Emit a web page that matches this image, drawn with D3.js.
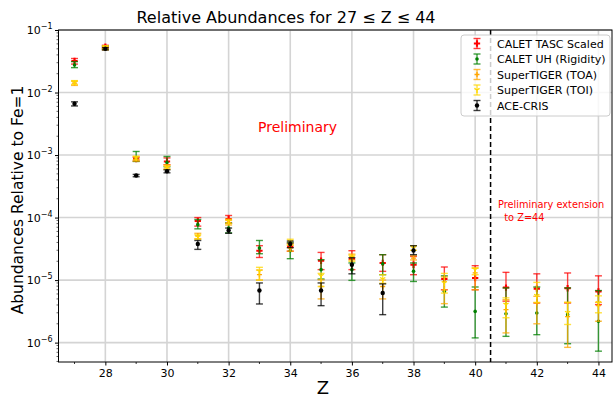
<!DOCTYPE html>
<html>
<head>
<meta charset="utf-8">
<script src="https://cdn.jsdelivr.net/npm/d3@7"></script>
<style>
  body { margin: 0; background: #fff; }
  svg { font-family: "DejaVu Sans", sans-serif; }
</style>
</head>
<body>
<svg width="616" height="401"></svg>
<script>
// atomic number
var zVals = [27, 28, 29, 30, 31, 32, 33, 34, 35, 36, 37, 38, 39, 40, 41, 42, 43, 44];

// CALET TASC Scaled
var tascVal = [3.2e-2, 5.4e-2, 8.6e-4, 7.9e-4, 8.8e-5, 9.5e-5, 2.95e-5, 3.4e-5, 2.04e-5, 2.17e-5, 1.88e-5, 1.76e-5, 1.04e-5, 1.08e-5, 7.6e-6, 7.3e-6, 7.4e-6, 6.6e-6];
var tascLo  = [2.85e-2, 5.1e-2, 8.0e-4, 7.0e-4, 7.3e-5, 8.1e-5, 2.3e-5, 2.9e-5, 1.47e-5, 1.47e-5, 1.38e-5, 1.22e-5, 7.0e-6, 7.0e-6, 4.6e-6, 4.3e-6, 4.3e-6, 4.05e-6];
var tascHi  = [3.5e-2, 5.7e-2, 9.2e-4, 9.0e-4, 1.0e-4, 1.08e-4, 3.55e-5, 3.9e-5, 2.77e-5, 2.95e-5, 2.55e-5, 2.39e-5, 1.62e-5, 1.7e-5, 1.33e-5, 1.26e-5, 1.3e-5, 1.17e-5];

// CALET UH (Rigidity)
var uhVal = [2.76e-2, 5.2e-2, 8.9e-4, 7.6e-4, 7.7e-5, 6.8e-5, 3.26e-5, 2.95e-5, 1.47e-5, 1.47e-5, 1.83e-5, 1.38e-5, 6.6e-6, 3.16e-6, 2.9e-6, 2.98e-6, 2.8e-6, 2.19e-6];
var uhLo  = [2.5e-2, 4.9e-2, 7.9e-4, 6.5e-4, 6.6e-5, 5.7e-5, 2.64e-5, 2.2e-5, 1.04e-5, 9.9e-6, 1.22e-5, 9.5e-6, 3.7e-6, 1.19e-6, 1.26e-6, 1.34e-6, 9.6e-7, 7.3e-7];
var uhHi  = [3.12e-2, 5.5e-2, 1.14e-3, 9.5e-4, 9.3e-5, 8.2e-5, 4.3e-5, 3.95e-5, 2.12e-5, 1.88e-5, 2.55e-5, 1.88e-5, 1.17e-5, 7.76e-6, 7.5e-6, 7.76e-6, 7.5e-6, 6.8e-6];

// SuperTIGER (TOA)
var toaVal = [1.41e-2, 5.1e-2, 8.7e-4, 6.5e-4, 5.1e-5, 8.3e-5, 1.22e-5, 3.26e-5, 7.9e-6, 2.39e-5, 7.9e-6, 2.25e-5, 7.0e-6, 1.3e-5, 3.37e-6, 4.3e-6, 2.6e-6, 3.9e-6];
var toaLo  = [1.3e-2, 4.8e-2, 8.0e-4, 6.0e-4, 4.6e-5, 7.6e-5, 1.0e-5, 2.9e-5, 5.0e-6, 2.1e-5, 5.0e-6, 2.1e-5, 4.2e-6, 7.0e-6, 1.43e-6, 2.0e-6, 8.4e-7, 2.2e-6];
var toaHi  = [1.52e-2, 5.4e-2, 9.4e-4, 7.0e-4, 5.6e-5, 9.0e-5, 1.45e-5, 3.6e-5, 1.01e-5, 2.6e-5, 1.0e-5, 2.45e-5, 1.12e-5, 1.56e-5, 4.86e-6, 5.5e-6, 4.4e-6, 4.4e-6];

// SuperTIGER (TOI)
var toiVal = [1.45e-2, 5.3e-2, 9.0e-4, 6.3e-4, 4.9e-5, 8.7e-5, 1.38e-5, 4.1e-5, 1.17e-5, 2.25e-5, 1.04e-5, 3.26e-5, 9.0e-6, 1.47e-5, 4.05e-6, 5.6e-6, 3.0e-6, 4.3e-6];
var toiLo  = [1.35e-2, 5.0e-2, 8.4e-4, 5.9e-4, 4.5e-5, 8.0e-5, 1.0e-5, 3.7e-5, 7.9e-6, 2.0e-5, 8.9e-6, 3.0e-5, 6.2e-6, 1.22e-5, 2.5e-6, 4.4e-6, 1.95e-6, 3.0e-6];
var toiHi  = [1.55e-2, 5.6e-2, 9.6e-4, 6.7e-4, 5.3e-5, 9.4e-5, 1.6e-5, 4.5e-5, 1.28e-5, 2.5e-5, 1.22e-5, 3.55e-5, 1.28e-5, 1.56e-5, 5.2e-6, 9.2e-6, 4.4e-6, 5.6e-6];

// ACE-CRIS (Z = 27..38)
var aceVal = [6.6e-3, 5.0e-2, 4.7e-4, 5.5e-4, 3.77e-5, 6.2e-5, 6.8e-6, 3.77e-5, 6.8e-6, 1.76e-5, 6.2e-6, 2.98e-5];
var aceLo  = [6.1e-3, 4.8e-2, 4.5e-4, 5.2e-4, 3.1e-5, 5.6e-5, 4.15e-6, 3.3e-5, 3.9e-6, 1.26e-5, 2.8e-6, 2.55e-5];
var aceHi  = [7.1e-3, 5.2e-2, 4.9e-4, 5.8e-4, 4.3e-5, 6.8e-5, 9.0e-6, 4.2e-5, 9.0e-6, 2.28e-5, 8.7e-6, 3.55e-5];

var xTicks = [28, 30, 32, 34, 36, 38, 40, 42, 44];
var yTicks = [1e-1, 1e-2, 1e-3, 1e-4, 1e-5, 1e-6];
var supers = {"-1": "\u22121", "-2": "\u22122", "-3": "\u22123", "-4": "\u22124", "-5": "\u22125", "-6": "\u22126"};

var padL = 58.5, padR = 612, padT = 30, padB = 362;

var x = d3.scaleLinear().domain([26.48, 44.44]).range([padL, padR]);
var y = d3.scaleLog().domain([Math.pow(10, -6.31), 1e-1]).range([padB, padT]);

var svg = d3.select('svg');

// grid
var grid = svg.append('g').attr('class', 'grid');
grid.selectAll('line.gx').data(xTicks).enter().append('line')
    .attr('x1', function(d) { return x(d); }).attr('x2', function(d) { return x(d); })
    .attr('y1', padT).attr('y2', padB)
    .attr('stroke', '#d4d4d4').attr('stroke-width', 1.6);
grid.selectAll('line.gy').data(yTicks).enter().append('line')
    .attr('y1', function(d) { return y(d); }).attr('y2', function(d) { return y(d); })
    .attr('x1', padL).attr('x2', padR)
    .attr('stroke', '#d4d4d4').attr('stroke-width', 1.6);

// dashed separator at Z = 40.5
svg.append('line')
    .attr('x1', x(40.5)).attr('x2', x(40.5))
    .attr('y1', padT).attr('y2', padB)
    .attr('stroke', '#000').attr('stroke-width', 1.5)
    .attr('stroke-dasharray', '5,3');

var series = [
  { name: 'CALET TASC Scaled',  color: '#ff0000', val: tascVal, lo: tascLo, hi: tascHi, marker: 'P' },
  { name: 'CALET UH (Rigidity)', color: '#008000', val: uhVal, lo: uhLo, hi: uhHi, marker: '.' },
  { name: 'SuperTIGER (TOA)',   color: '#ffa500', val: toaVal, lo: toaLo, hi: toaHi, marker: '+' },
  { name: 'SuperTIGER (TOI)',   color: '#ffd700', val: toiVal, lo: toiLo, hi: toiHi, marker: '1' },
  { name: 'ACE-CRIS',           color: '#000000', val: aceVal, lo: aceLo, hi: aceHi, marker: 'o' }
];

function drawMarker(g, m, color) {
  if (m === 'P') {
    g.append('path').attr('d', d3.symbol().type(d3.symbolCross).size(22)())
      .attr('fill', color);
  } else if (m === '.') {
    g.append('circle').attr('r', 1.8).attr('fill', color);
  } else if (m === '+') {
    g.append('path').attr('d', 'M-2.5,0H2.5M0,-2.5V2.5')
      .attr('stroke', color).attr('stroke-width', 1.3).attr('fill', 'none');
  } else if (m === '1') {
    g.append('path').attr('d', 'M0,0V3M0,0L-2.6,-1.6M0,0L2.6,-1.6')
      .attr('stroke', color).attr('stroke-width', 1.3).attr('fill', 'none');
  } else {
    g.append('circle').attr('r', 2.2).attr('fill', color);
  }
}

var cap = 3.5;
series.forEach(function(s) {
  var pts = s.val.map(function(v, i) {
    return { z: zVals[i], v: v, lo: s.lo[i], hi: s.hi[i] };
  });
  var g = svg.append('g').attr('class', 'series');
  var bars = g.selectAll('g.eb').data(pts).enter().append('g')
      .attr('stroke', s.color).attr('stroke-opacity', 0.75).attr('stroke-width', 1.4);
  bars.append('line')
      .attr('x1', function(d) { return x(d.z); }).attr('x2', function(d) { return x(d.z); })
      .attr('y1', function(d) { return y(d.lo); }).attr('y2', function(d) { return y(d.hi); });
  bars.append('line')
      .attr('x1', function(d) { return x(d.z) - cap; }).attr('x2', function(d) { return x(d.z) + cap; })
      .attr('y1', function(d) { return y(d.lo); }).attr('y2', function(d) { return y(d.lo); });
  bars.append('line')
      .attr('x1', function(d) { return x(d.z) - cap; }).attr('x2', function(d) { return x(d.z) + cap; })
      .attr('y1', function(d) { return y(d.hi); }).attr('y2', function(d) { return y(d.hi); });
  g.selectAll('g.mk').data(pts).enter().append('g')
      .attr('transform', function(d) { return 'translate(' + x(d.z) + ',' + y(d.v) + ')'; })
      .each(function() { drawMarker(d3.select(this), s.marker, s.color); });
});

// frame
svg.append('rect')
    .attr('x', padL).attr('y', padT)
    .attr('width', padR - padL).attr('height', padB - padT)
    .attr('fill', 'none').attr('stroke', '#000').attr('stroke-width', 1);

// x axis
var xAxis = d3.axisBottom(x).tickValues(xTicks).tickSize(3.5).tickPadding(4).tickFormat(d3.format('d'));
var gx = svg.append('g').attr('transform', 'translate(0,' + padB + ')').call(xAxis);
gx.select('.domain').remove();
gx.selectAll('text').attr('font-size', 11).attr('fill', '#000').attr('font-family', 'DejaVu Sans');
var xMinor = d3.range(27, 45, 2);
gx.selectAll('line.minor').data(xMinor).enter().append('line')
    .attr('x1', function(d) { return x(d); }).attr('x2', function(d) { return x(d); })
    .attr('y1', 0).attr('y2', 2).attr('stroke', '#000').attr('stroke-width', 0.8);

// y axis
var yAxis = d3.axisLeft(y).tickValues(yTicks).tickSize(3.5).tickFormat('');
var gy = svg.append('g').attr('transform', 'translate(' + padL + ',0)').call(yAxis);
gy.select('.domain').remove();
var yMinor = [];
[1e-7, 1e-6, 1e-5, 1e-4, 1e-3, 1e-2].forEach(function(b) {
  for (var k = 2; k <= 9; k++) {
    var v = b * k;
    if (v > y.domain()[0] && v < 1e-1) yMinor.push(v);
  }
});
gy.selectAll('line.minor').data(yMinor).enter().append('line')
    .attr('x1', -2).attr('x2', 0)
    .attr('y1', function(d) { return y(d); }).attr('y2', function(d) { return y(d); })
    .attr('stroke', '#000').attr('stroke-width', 0.6);
var ylab = svg.append('g');
yTicks.forEach(function(t) {
  var e = Math.round(Math.log10(t));
  var txt = ylab.append('text')
      .attr('x', padL - 6).attr('y', y(t) + 4)
      .attr('text-anchor', 'end').attr('font-size', 11);
  txt.append('tspan').text('10');
  txt.append('tspan').attr('dy', -5).attr('font-size', 8).text(supers[e]);
});

// titles
svg.append('text').attr('x', 286).attr('y', 23).attr('text-anchor', 'middle')
    .attr('font-size', 16).text('Relative Abundances for 27 \u2264 Z \u2264 44');
svg.append('text').attr('x', 323).attr('y', 394).attr('text-anchor', 'middle')
    .attr('font-size', 18).text('Z');
svg.append('text').attr('transform', 'translate(23,200) rotate(-90)')
    .attr('text-anchor', 'middle').attr('font-size', 15.5)
    .text('Abundances Relative to Fe=1');

// annotations
svg.append('text').attr('x', 258).attr('y', 132).attr('fill', '#ff0000')
    .attr('font-size', 14).text('Preliminary');
svg.append('text').attr('x', 498).attr('y', 208).attr('fill', '#ff0000')
    .attr('font-size', 9.8).text('Preliminary extension');
svg.append('text').attr('x', 498).attr('y', 221).attr('fill', '#ff0000')
    .attr('font-size', 9.8).attr('xml:space', 'preserve').text('  to Z=44');

// legend
var lg = svg.append('g').attr('transform', 'translate(461,35)');
lg.append('rect').attr('width', 149).attr('height', 81).attr('rx', 3)
    .attr('fill', '#fff').attr('fill-opacity', 0.8).attr('stroke', '#cccccc');
series.forEach(function(s, i) {
  var row = lg.append('g').attr('transform', 'translate(16,' + (8.5 + i * 15.5) + ')');
  row.append('line').attr('x1', 0).attr('x2', 0).attr('y1', -5).attr('y2', 5)
     .attr('stroke', s.color).attr('stroke-width', 1.4).attr('stroke-opacity', 0.75);
  row.append('line').attr('x1', -cap).attr('x2', cap).attr('y1', -5).attr('y2', -5)
     .attr('stroke', s.color).attr('stroke-width', 1.4).attr('stroke-opacity', 0.75);
  row.append('line').attr('x1', -cap).attr('x2', cap).attr('y1', 5).attr('y2', 5)
     .attr('stroke', s.color).attr('stroke-width', 1.4).attr('stroke-opacity', 0.75);
  drawMarker(row, s.marker, s.color);
  row.append('text').attr('x', 20).attr('y', 4).attr('font-size', 11).text(s.name);
});
</script>
</body>
</html>
